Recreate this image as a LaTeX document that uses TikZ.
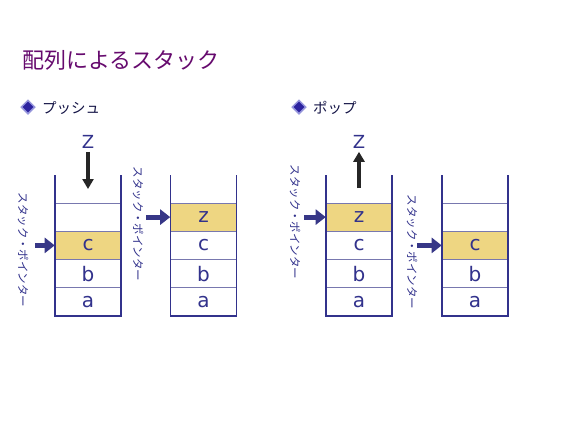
\documentclass[tikz,border=0pt]{standalone}
\usepackage{fontspec}
\setmainfont{DejaVu Sans}
\newfontfamily\jpfont{Noto Sans CJK JP}
\usetikzlibrary{shapes.geometric, arrows.meta}
\definecolor{titlepurple}{RGB}{102,10,110}
\definecolor{headnavy}{RGB}{20,20,70}
\definecolor{wallblue}{RGB}{50,50,140}
\definecolor{sepblue}{RGB}{120,120,175}
\definecolor{cellgold}{RGB}{238,214,130}
\definecolor{ptrblue}{RGB}{55,55,135}
\definecolor{bulletfill}{RGB}{45,35,160}
\definecolor{bulletedge}{RGB}{150,150,220}

\begin{document}
\begin{tikzpicture}[x=1pt, y=-1pt,
  cell/.style={rectangle, draw=sepblue, line width=0.6pt, minimum width=66pt, minimum height=28.25pt, inner sep=0pt, text=wallblue, font=\fontsize{20}{20}\selectfont},
  topcell/.style={cell, fill=cellgold},
  wall/.style={draw=wallblue, line width=1.8pt},
  pointer/.style={-{Triangle[length=10pt, width=15pt]}, draw=ptrblue, line width=5pt},
  ptrlabel/.style={rotate=-90, text=wallblue, font=\jpfont\fontsize{11.5}{11.5}\selectfont, inner sep=0pt},
  zarrow/.style={-{Triangle[length=10pt, width=11pt]}, draw=black!85, line width=3.5pt},
  bullet/.style={diamond, draw=bulletedge, fill=bulletfill, line width=1.5pt, minimum size=14pt, inner sep=0pt},
  heading/.style={anchor=west, text=headnavy, font=\jpfont\fontsize{14.5}{14.5}\selectfont, inner sep=0pt}]
  \useasboundingbox (0,0) rectangle (566,424);
  \fill[white] (0,0) rectangle (566,424);

  % Title and headings
  \node[anchor=west, text=titlepurple, font=\jpfont\fontsize{22}{22}\selectfont, inner sep=0pt] (title) at (22,60) {配列によるスタック};
  \node[bullet] (bpush) at (28,107) {};
  \node[heading] (hpush) at (42,108) {プッシュ};
  \node[bullet] (bpop) at (299,107) {};
  \node[heading] (hpop) at (313,108) {ポップ};

  % Push: before
  \node[cell] (p1d) at (88,217.1) {};
  \node[topcell] (p1c) at (88,245.4) {c};
  \node[cell] (p1b) at (88,273.6) {b};
  \node[cell] (p1a) at (88,301.9) {a};
  \draw[wall] (55,175) |- (121,316) -- (121,175);

  % Push: after
  \node[topcell] (p2z) at (203.5,217.1) {z};
  \node[cell] (p2c) at (203.5,245.4) {c};
  \node[cell] (p2b) at (203.5,273.6) {b};
  \node[cell] (p2a) at (203.5,301.9) {a};
  \draw[wall] (170.5,175) |- (236.5,316) -- (236.5,175);

  % Pop: before
  \node[topcell] (q1z) at (359,217.1) {z};
  \node[cell] (q1c) at (359,245.4) {c};
  \node[cell] (q1b) at (359,273.6) {b};
  \node[cell] (q1a) at (359,301.9) {a};
  \draw[wall] (326,175) |- (392,316) -- (392,175);

  % Pop: after
  \node[cell] (q2d) at (475,217.1) {};
  \node[topcell] (q2c) at (475,245.4) {c};
  \node[cell] (q2b) at (475,273.6) {b};
  \node[cell] (q2a) at (475,301.9) {a};
  \draw[wall] (442,175) |- (508,316) -- (508,175);

  % Z in and out
  \node[text=wallblue, font=\fontsize{18}{18}\selectfont, inner sep=0pt] (zin) at (88,142) {Z};
  \coordinate (zinend) at (88,189);
  \draw[zarrow] ([yshift=-3pt]zin.south) -- (zinend);
  \node[text=wallblue, font=\fontsize{18}{18}\selectfont, inner sep=0pt] (zout) at (359,142) {Z};
  \coordinate (zoutstart) at (359,188);
  \draw[zarrow] (zoutstart) -- ([yshift=-3pt]zout.south);

  % Stack pointers
  \node[ptrlabel] (l1) at (23,250) {スタック・ポインター};
  \node[ptrlabel] (l2) at (138,224) {スタック・ポインター};
  \node[ptrlabel] (l3) at (295,222) {スタック・ポインター};
  \node[ptrlabel] (l4) at (412,252) {スタック・ポインター};
  \coordinate (s1) at (35,245.4);
  \coordinate (s2) at (146,217.1);
  \coordinate (s3) at (304,217.1);
  \coordinate (s4) at (417,245.4);
  \draw[pointer] (s1) -- (p1c.west);
  \draw[pointer] (s2) -- (p2z.west);
  \draw[pointer] (s3) -- (q1z.west);
  \draw[pointer] (s4) -- (q2c.west);
\end{tikzpicture}
\end{document}
